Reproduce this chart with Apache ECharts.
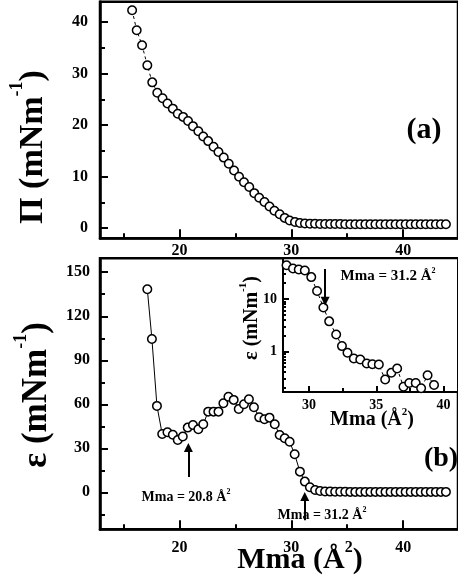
<!DOCTYPE html>
<html>
<head>
<meta charset="utf-8">
<script src="https://cdn.jsdelivr.net/npm/echarts@6/dist/echarts.min.js"></script>
<style>html,body{margin:0;padding:0;background:#fff}#c{width:458px;height:582px}</style>
</head>
<body>
<div id="c"></div>
<script>
// ---- Panel (a): surface pressure isotherm ----
const topX = [15.77,16.18,16.66,17.13,17.57,18.02,18.49,18.93,19.41,19.85,20.33,20.77,21.21,21.69,22.13,22.57,23.05,23.49,23.96,24.41,24.88,25.33,25.77,26.24,26.69,27.13,27.60,28.05,28.49,28.96,29.41,29.85,30.33,30.77,
  31.22,31.67,32.12,32.57,33.02,33.47,33.92,34.37,34.82,35.27,35.72,36.17,36.62,37.07,37.52,37.97,38.42,38.87,39.32,39.77,40.22,40.67,41.12,41.57,42.02,42.47,42.92,43.37,43.82];
const topPi = [42.3,38.4,35.5,31.6,28.3,26.3,25.2,24.2,23.2,22.2,21.6,20.8,19.8,18.8,17.8,16.9,15.8,14.8,13.7,12.5,11.2,10.0,8.9,8.0,6.8,5.9,5.1,4.2,3.4,2.7,2.0,1.5,1.2,1.0,
  0.9,0.85,0.85,0.8,0.8,0.8,0.8,0.8,0.78,0.75,0.75,0.75,0.75,0.75,0.75,0.75,0.75,0.75,0.75,0.75,0.75,0.75,0.75,0.75,0.75,0.75,0.75,0.75,0.75];

// ---- Panel (b): elasticity ----
const botX = [17.13,17.54,17.99,18.46,18.93,19.41,19.85,20.30,20.74,21.21,21.69,22.13,22.57,23.05,23.49,23.93,24.38,24.85,25.30,25.77,26.21,26.66,27.13,27.60,28.05,28.52,28.96,29.41,29.85,30.30,30.77,31.21,31.66,32.13,32.57,
  33.02,33.47,33.92,34.37,34.82,35.27,35.72,36.17,36.62,37.07,37.52,37.97,38.42,38.87,39.32,39.77,40.22,40.67,41.12,41.57,42.02,42.47,42.92,43.37,43.82];
const botEps = [138.4,104.5,58.9,39.8,40.9,39.3,35.7,38.0,44.1,45.9,43.0,46.4,55.0,55.0,55.0,60.7,65.2,63.0,56.8,60.0,63.4,58.0,51.1,49.8,50.9,46.4,39.1,36.8,34.5,25.9,14.1,7.3,3.4,1.6,0.9,
  0.6,0.5,0.4,0.4,0.4,0.3,0.3,0.3,0.3,0.3,0.3,0.3,0.3,0.3,0.3,0.3,0.3,0.3,0.3,0.3,0.3,0.3,0.3,0.3,0.3];

// ---- Inset: elasticity on log scale ----
const insX = [28.33,28.81,29.24,29.69,30.17,30.60,31.07,31.50,32.02,32.45,32.86,33.33,33.81,34.29,34.71,35.19,35.66,36.12,36.55,37.02,37.45,37.93,38.33,38.81,39.29];
const insEps = [43.9,38.0,36.3,34.8,26.0,14.1,6.85,3.73,2.09,1.26,0.94,0.73,0.70,0.586,0.569,0.56,0.29,0.39,0.47,0.212,0.25,0.25,0.198,0.35,0.228];

// ---- Tick values ----
const mainXMajor = [20,30,40];
const mainXMinor = [15,25,35,45];
const topYMajor = [0,10,20,30,40];
const topYMinor = [5,15,25,35];
const botYMajor = [0,30,60,90,120,150];
const botYMinor = [-15,15,45,75,105,135];
const insXMajor = [30,35,40];
const insXMinor = [32.5,37.5];
const insYMajor = [1,10];
const insYMinor = [0.2,0.3,0.4,0.5,0.6,0.7,0.8,0.9,2,3,4,5,6,7,8,9,20,30,40,50];

// ---- Annotations (arrow shafts, data units) ----
const arrowLow = {x:20.8, from:10.5, to:30.5};
const arrowHigh = {x:31.2, from:-19, to:-2.9};
const arrowInset = {x:31.2, from:37, to:9.0};

const FONT = 'Liberation Serif';
const BLACK = '#000';

function axisPair(grid, min, max, major, minor, opts) {
  const o = Object.assign({lineW:2.5, majLen:9, minLen:5, fontSize:16, margin:8, type:'value'}, opts||{});
  const main = {
    type:o.type, gridIndex:grid, min:min, max:max, position:o.position,
    axisLine:{show:true, onZero:false, lineStyle:{color:BLACK, width:o.lineW}},
    splitLine:{show:false}, minorTick:{show:false},
    axisTick:{show:true, inside:true, length:o.majLen, customValues:major, lineStyle:{color:BLACK, width:2}},
    axisLabel:{show:true, customValues:major, color:BLACK, fontFamily:FONT, fontWeight:'bold', fontSize:o.fontSize, margin:o.margin}
  };
  const mn = {
    type:o.type, gridIndex:grid, min:min, max:max, position:o.position,
    axisLine:{show:false, onZero:false},
    splitLine:{show:false},
    axisTick:{show:true, inside:true, length:o.minLen, customValues:minor, lineStyle:{color:BLACK, width:2}},
    axisLabel:{show:false}
  };
  return [main, mn];
}

const xAxes = [].concat(
  axisPair(0, 12.9, 44.9, mainXMajor, mainXMinor, {position:'bottom', margin:5}),
  axisPair(1, 12.9, 44.9, mainXMajor, mainXMinor, {position:'bottom', margin:11}),
  axisPair(2, 28.07, 41.07, insXMajor, insXMinor, {position:'bottom', lineW:2, majLen:6, minLen:4, fontSize:14, margin:6})
);
const yAxes = [].concat(
  axisPair(0, -1.94, 43.95, topYMajor, topYMinor, {position:'left', majLen:8, minLen:5, margin:12}),
  axisPair(1, -25.2, 159.5, botYMajor, botYMinor, {position:'left', majLen:8, minLen:5, margin:10}),
  axisPair(2, 0.168, 59.4, insYMajor, insYMinor, {position:'left', type:'log', lineW:2, majLen:6, minLen:3, fontSize:14, margin:6})
);

function pts(xs, ys){ return xs.map((x,i)=>[x, ys[i]]); }
const symStyle = {color:'#fff', borderColor:BLACK, borderWidth:1.5};
function arrowLine(a){ return [{coord:[a.x, a.from]}, {coord:[a.x, a.to]}]; }
const markLineBase = {silent:true, symbol:['none','triangle'], symbolSize:9, label:{show:false},
  lineStyle:{color:BLACK, width:2, type:'solid'}, itemStyle:{color:BLACK}, animation:false};

function txt(x, y, text, size, supSize, rot, mainLH, supLH) {
  return {type:'text', x:x, y:y, rotation:rot||0, silent:true, z:100,
    style:{text:text, fill:BLACK, align:'center', verticalAlign:'middle',
      fontFamily:FONT, fontWeight:'bold', fontSize:size,
      rich:{
        m:{fontSize:size, fontFamily:FONT, fontWeight:'bold', fill:BLACK, lineHeight:mainLH||Math.round(size*1.3)},
        s:{fontSize:supSize, fontFamily:FONT, fontWeight:'bold', fill:BLACK, verticalAlign:'top', lineHeight:supLH||Math.round(supSize*1.1)}
      }}};
}

const option = {
  animation:false,
  backgroundColor:'#fff',
  grid:[
    {left:100, top:1.7, width:360, height:236.5, show:true, borderColor:BLACK, borderWidth:2.5, backgroundColor:'transparent'},
    {left:100, top:258.3, width:360, height:271, show:true, borderColor:BLACK, borderWidth:2.5, backgroundColor:'transparent'},
    {left:283, top:258.3, width:182, height:133.7, show:true, borderColor:BLACK, borderWidth:2, backgroundColor:'#fff'}
  ],
  xAxis:xAxes,
  yAxis:yAxes,
  series:[
    {type:'line', xAxisIndex:0, yAxisIndex:0, data:pts(topX, topPi), symbol:'circle', symbolSize:8.5,
      itemStyle:symStyle, lineStyle:{color:BLACK, width:1, type:[3,3]}, z:3},
    {type:'line', xAxisIndex:2, yAxisIndex:2, data:pts(botX, botEps), symbol:'circle', symbolSize:8.5,
      itemStyle:symStyle, lineStyle:{color:BLACK, width:1}, z:3,
      markLine:Object.assign({data:[arrowLine(arrowLow), arrowLine(arrowHigh)]}, markLineBase)},
    {type:'line', xAxisIndex:4, yAxisIndex:4, data:pts(insX, insEps), symbol:'circle', symbolSize:8.5,
      itemStyle:symStyle, lineStyle:{color:BLACK, width:1, type:[3,3]}, z:3,
      markLine:Object.assign({data:[arrowLine(arrowInset)]}, markLineBase)}
  ],
  graphic:[
    txt(33, 147, '{m|Π (mNm}{s|-1}{m|)}', 34, 18, Math.PI/2, 50, 20),
    txt(37, 395, '{m|ε (mNm}{s|-1}{m|)}', 35, 18, Math.PI/2, 50, 20),
    txt(252, 318, '{m|ε (mNm}{s|-1}{m|)}', 20, 11, Math.PI/2, 28, 12),
    txt(300, 560, '{m|Mma (Å}{s|2}{m|)}', 30, 16, 0, 40, 18),
    txt(372, 420, '{m|Mma (Å}{s|2}{m|)}', 20, 11, 0, 26, 12),
    txt(424, 130, '{m|(a)}', 30, 12, 0),
    txt(441, 459, '{m|(b)}', 28, 12, 0),
    txt(186, 497, '{m|Mma = 20.8 Å}{s|2}', 14, 8, 0, 18, 9),
    txt(322, 515, '{m|Mma = 31.2 Å}{s|2}', 14, 8, 0, 18, 9),
    txt(388, 276, '{m|Mma = 31.2 Å}{s|2}', 15, 8, 0, 18, 9)
  ]
};

const chart = echarts.init(document.getElementById('c'), null, {renderer:'canvas'});
chart.setOption(option);
</script>
</body>
</html>
